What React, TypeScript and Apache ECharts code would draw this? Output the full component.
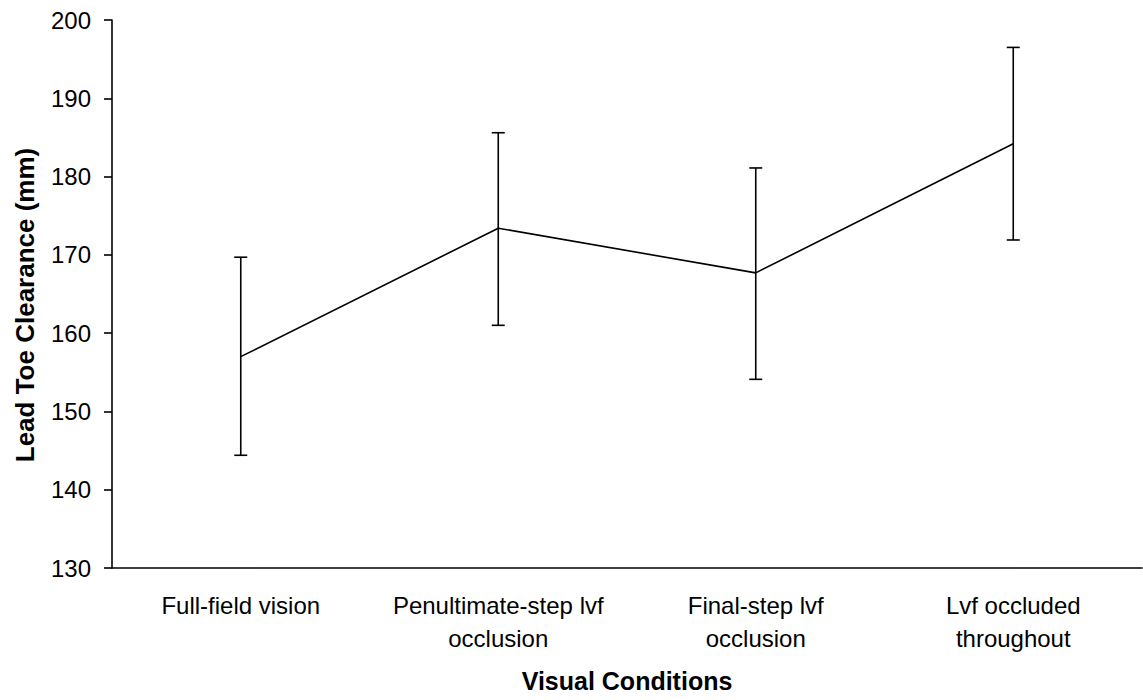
import React, { useEffect, useRef } from "react";
import * as echarts from "echarts";

const categories = [
  "Full-field vision",
  "Penultimate-step lvf\nocclusion",
  "Final-step lvf\nocclusion",
  "Lvf occluded\nthroughout",
];
const means = [157.0, 173.4, 167.7, 184.2];
const upper = [169.7, 185.6, 181.1, 196.5];
const lower = [144.4, 161.0, 154.1, 171.9];
const yMin = 130;
const yMax = 200;
const yInterval = 10;
const xTitle = "Visual Conditions";
const yTitle = "Lead Toe Clearance (mm)";

const FONT = '"Liberation Sans", Arial, sans-serif';

export default function App() {
  const ref = useRef<HTMLDivElement>(null);
  useEffect(() => {
    document.body.style.margin = "0";
    if (!ref.current) return;
    const chart = echarts.init(ref.current, undefined, { renderer: "svg" });
    chart.setOption({
      animation: false,
      backgroundColor: "#fff",
      grid: { left: 112, right: 1, top: 20, bottom: 132 },
      xAxis: {
        type: "category",
        data: categories,
        boundaryGap: true,
        axisLine: { lineStyle: { color: "#000", width: 1.6 } },
        axisTick: { length: 8, lineStyle: { color: "#000", width: 1.6 } },
        axisLabel: {
          color: "#000",
          fontFamily: FONT,
          fontSize: 24,
          lineHeight: 33,
          margin: 21,
          interval: 0,
        },
        splitLine: { show: false },
      },
      yAxis: {
        type: "value",
        min: yMin,
        max: yMax,
        interval: yInterval,
        axisLine: { show: true, lineStyle: { color: "#000", width: 1.6 } },
        axisTick: { show: true, length: 8, lineStyle: { color: "#000", width: 1.6 } },
        axisLabel: { color: "#000", fontFamily: FONT, fontSize: 24, margin: 21 },
        splitLine: { show: false },
      },
      graphic: [
        {
          type: "text",
          x: 627,
          y: 681,
          style: {
            text: xTitle,
            fill: "#000",
            font: `bold 25px ${FONT}`,
            align: "center",
            verticalAlign: "middle",
          },
        },
        {
          type: "text",
          x: 25,
          y: 305,
          rotation: Math.PI / 2,
          style: {
            text: yTitle,
            fill: "#000",
            font: `bold 26px ${FONT}`,
            align: "center",
            verticalAlign: "middle",
          },
        },
      ],
      series: [
        {
          type: "line",
          data: means,
          symbol: "none",
          lineStyle: { color: "#000", width: 1.6 },
          itemStyle: { color: "#000" },
          z: 3,
        },
        {
          type: "custom",
          data: categories.map((_, i) => [i, upper[i], lower[i]]),
          encode: { x: 0, y: [1, 2] },
          z: 4,
          renderItem: (params: any, api: any) => {
            const x = api.value(0);
            const pHi = api.coord([x, api.value(1)]);
            const pLo = api.coord([x, api.value(2)]);
            const hw = 6.5;
            const st = { stroke: "#000", lineWidth: 1.6 };
            return {
              type: "group",
              children: [
                { type: "line", shape: { x1: pHi[0], y1: pHi[1], x2: pLo[0], y2: pLo[1] }, style: st },
                { type: "line", shape: { x1: pHi[0] - hw, y1: pHi[1], x2: pHi[0] + hw, y2: pHi[1] }, style: st },
                { type: "line", shape: { x1: pLo[0] - hw, y1: pLo[1], x2: pLo[0] + hw, y2: pLo[1] }, style: st },
              ],
            };
          },
        },
      ],
    });
    return () => chart.dispose();
  }, []);
  return <div ref={ref} style={{ width: 1143, height: 700 }} />;
}
